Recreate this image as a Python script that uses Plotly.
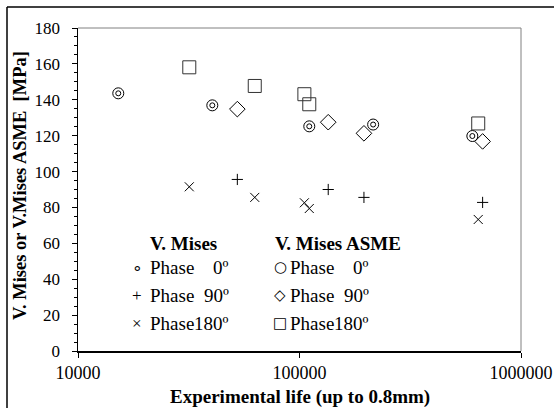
import plotly.graph_objects as go

# ---- data ----
life_0 = [15200, 40400, 110700, 215000, 603000]
vm_0 = [143.6, 136.9, 125.2, 126.2, 119.8]
asme_0 = [143.6, 136.9, 125.2, 126.2, 119.8]

life_90 = [52400, 134800, 195400, 671000]
vm_90 = [95.6, 90.0, 85.6, 82.8]
asme_90 = [134.8, 127.5, 121.3, 116.8]

life_180 = [31800, 62800, 105200, 110700, 641000]
vm_180 = [91.5, 85.6, 82.6, 79.4, 73.3]
asme_180 = [158.1, 147.7, 143.1, 137.5, 126.8]

x_tickvals = [10000, 100000, 1000000]
x_ticktext = ["10000", "100000", "1000000"]

W, H = 554, 408
L, R, T, B = 78, 521, 28, 351
def xp(px):
    return (px - L) / (R - L)
def yp(py):
    return (B - py) / (B - T)

FONT = "Liberation Serif, Times New Roman, serif"
fig = go.Figure()

def add(x, y, sym, size, color="black", lw=1):
    fig.add_trace(go.Scatter(x=x, y=y, mode="markers",
                             marker=dict(symbol=sym, size=size, color=color,
                                         line=dict(color=color, width=lw)),
                             showlegend=False, cliponaxis=False, hoverinfo="skip"))

add(life_0, asme_0, "circle-open", 11)
add(life_0, vm_0, "circle-open", 5)
add(life_90, asme_90, "diamond-open", 12)
add(life_90, vm_90, "cross-thin-open", 8)
add(life_180, asme_180, "square-open", 13, color="#333333")
add(life_180, vm_180, "x-thin-open", 9)

shapes = [
    # grey frame of plot area (top/right)
    dict(type="line", xref="paper", yref="paper", x0=0, x1=1, y0=1, y1=1,
         line=dict(color="#808080", width=1)),
    dict(type="line", xref="paper", yref="paper", x0=1, x1=1, y0=0, y1=1,
         line=dict(color="#808080", width=1)),
    # outer chart frame
    dict(type="line", xref="paper", yref="paper", x0=xp(7), x1=xp(600), y0=yp(7), y1=yp(7),
         line=dict(color="black", width=1.5)),
    dict(type="line", xref="paper", yref="paper", x0=xp(7), x1=xp(7), y0=yp(7), y1=yp(430),
         line=dict(color="black", width=1.5)),
]

ann = []
def text(px, py, s, size=19, bold=False, anchor="left", font=FONT):
    ann.append(dict(x=xp(px), y=yp(py), xref="paper", yref="paper", showarrow=False,
                    text=("<b>%s</b>" % s) if bold else s, xanchor=anchor, yanchor="middle",
                    font=dict(family=font, size=size, color="black")))

# axis titles
text(300, 397, "Experimental life (up to 0.8mm)", size=19, bold=True, anchor="center")
ann.append(dict(x=xp(20), y=yp(186), xref="paper", yref="paper", showarrow=False,
                text="<b>V. Mises or V.Mises ASME\u00a0\u00a0[MPa]</b>", textangle=-90,
                xanchor="center", yanchor="middle",
                font=dict(family=FONT, size=18.5, color="black")))

# legend
text(183, 243, "V. Mises", bold=True, anchor="center")
text(338, 243, "V. Mises ASME", bold=True, anchor="center")
rows = [267, 295, 323]
nums = ["0º", "90º", "180º"]
left_sym = ["\u2218", "+", "\u00d7"]
right_sym = ["\u25cb", "\u25c7", "\u25a1"]
for r, n, ls, rs in zip(rows, nums, left_sym, right_sym):
    text(137, r, ls, size=17, anchor="center")
    text(148, r, "Phase")
    text(231, r, n, anchor="right")
    text(280, r, rs, size=15, anchor="center", font="DejaVu Sans")
    text(288, r, "Phase")
    text(371, r, n, anchor="right")

fig.update_layout(
    width=W, height=H,
    margin=dict(l=L, r=W - R, t=T, b=H - B, autoexpand=False),
    paper_bgcolor="white", plot_bgcolor="white",
    shapes=shapes, annotations=ann,
    font=dict(family=FONT, color="black"),
    hovermode=False,
    xaxis=dict(type="log", range=[4, 6], tickvals=x_tickvals, ticktext=x_ticktext,
               automargin=False,
               showgrid=False, zeroline=False, showline=True, linecolor="black", linewidth=1.5,
               ticks="outside", ticklen=5, tickcolor="black", tickwidth=1,
               tickfont=dict(family=FONT, size=18, color="black")),
    yaxis=dict(range=[0, 180], dtick=20, tick0=0, automargin=False,
               showgrid=False, zeroline=False, showline=True, linecolor="black", linewidth=1.5,
               ticks="outside", ticklen=5, tickcolor="black", tickwidth=1,
               ticklabelstandoff=8,
               tickfont=dict(family=FONT, size=17, color="black"),
               minor=dict(dtick=5, ticks="outside", ticklen=3, tickcolor="black", tickwidth=1,
                          showgrid=False)),
)

fig.write_html("out.html", config={"displayModeBar": False, "staticPlot": True},
               post_script="document.body.style.margin='0px';document.body.style.overflow='hidden';")
